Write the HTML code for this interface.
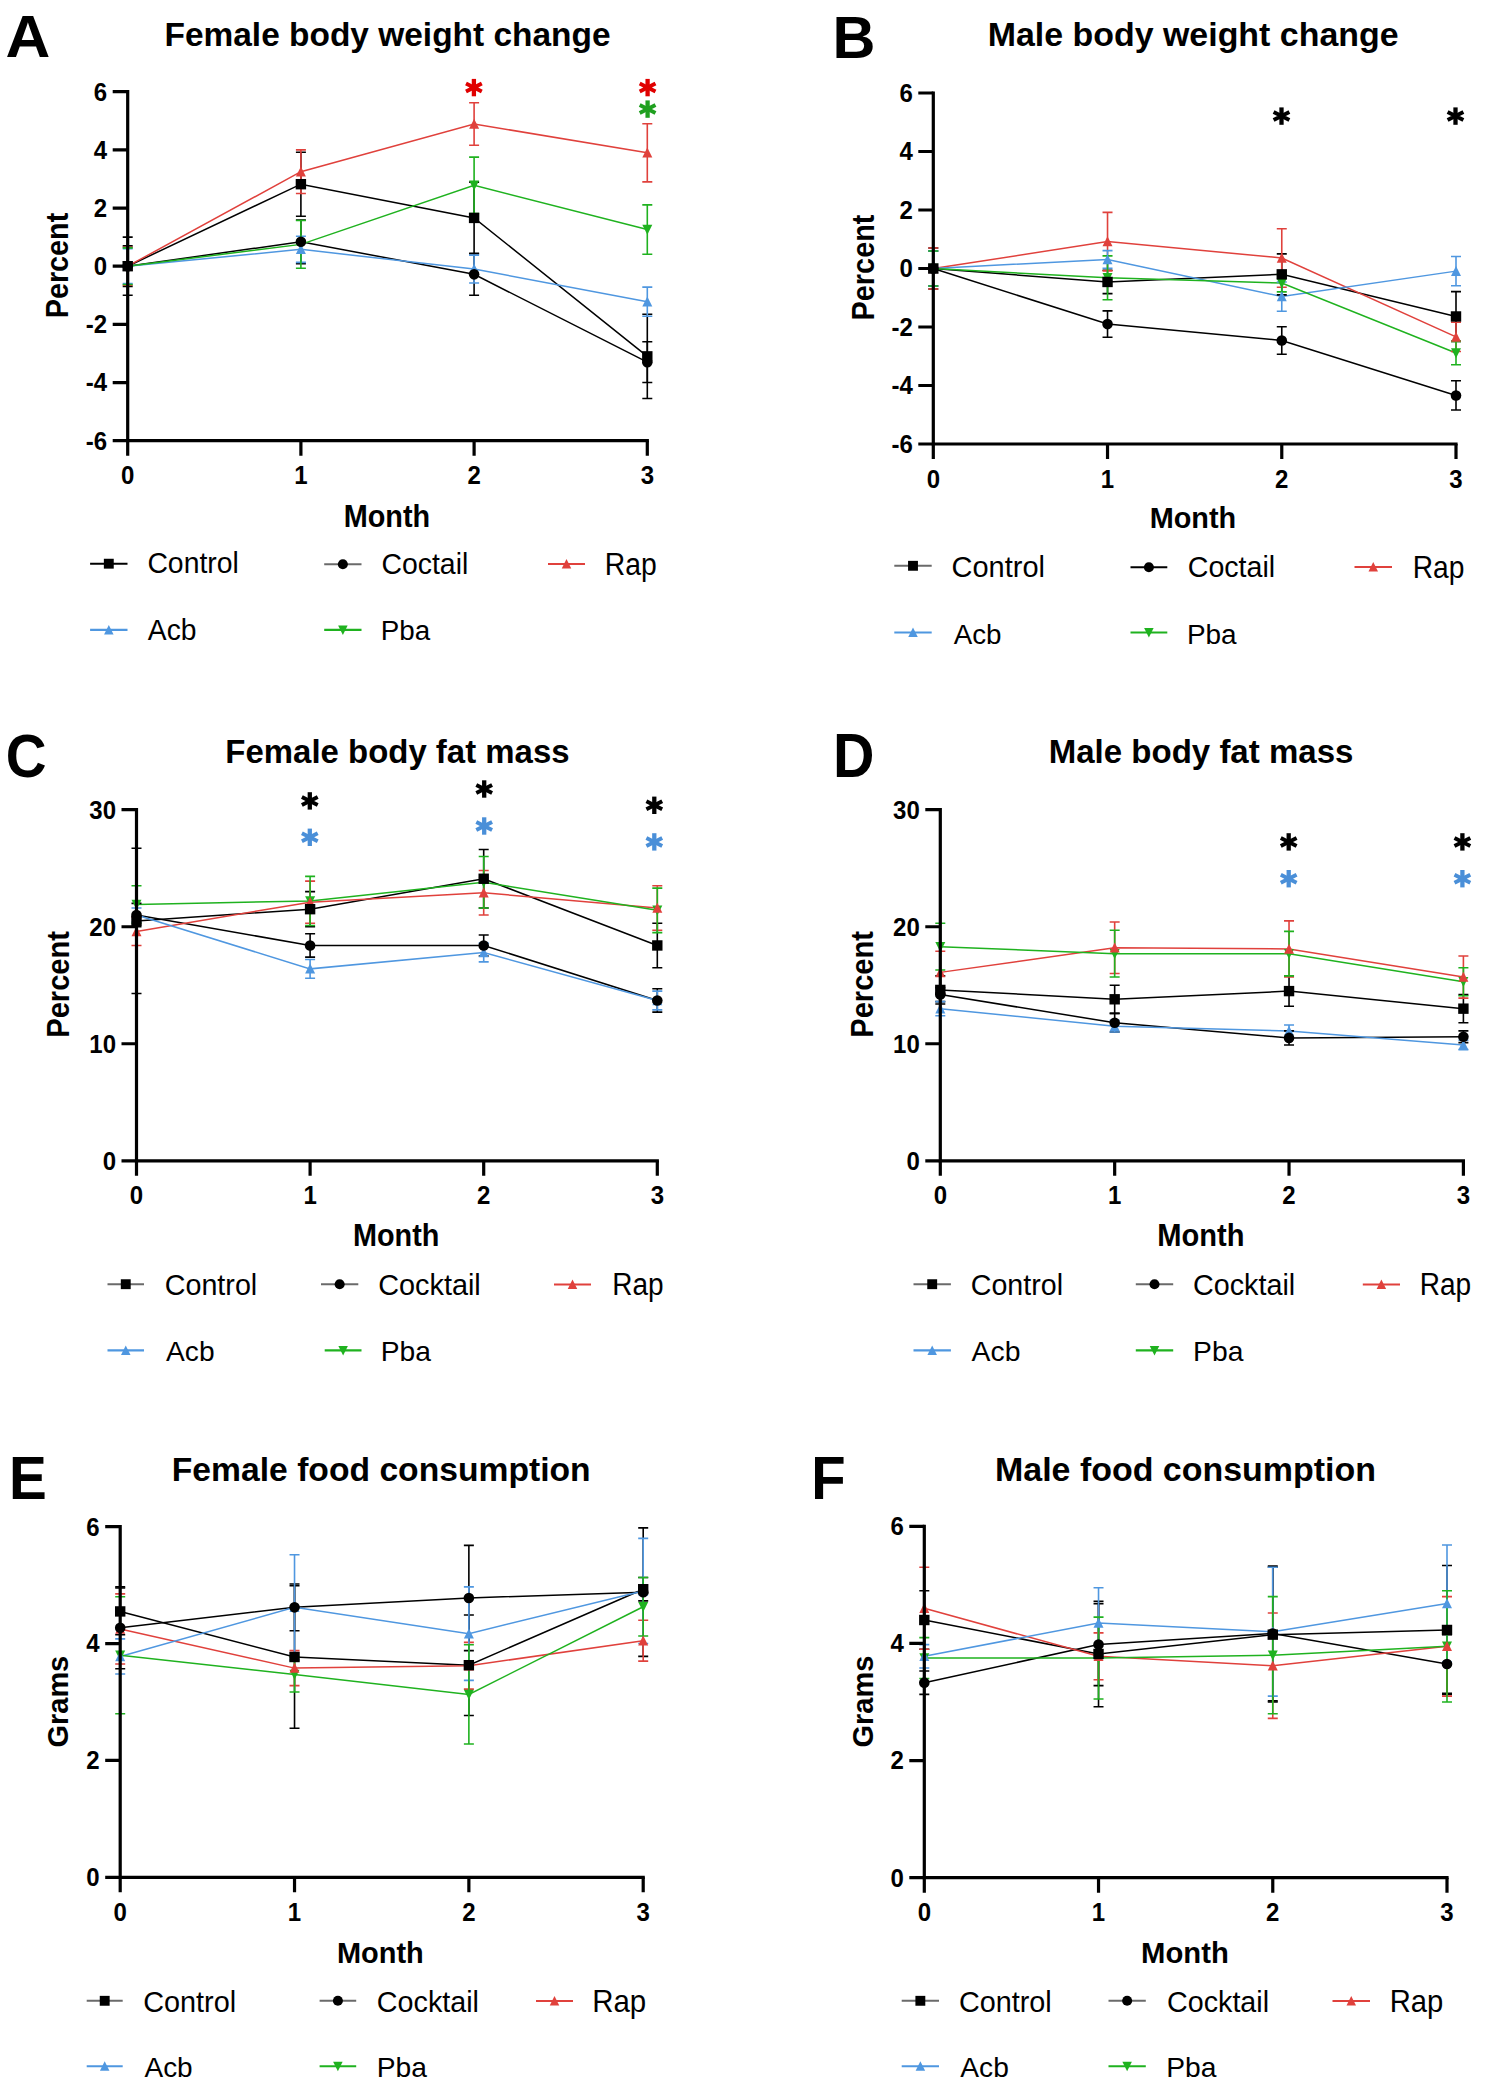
<!DOCTYPE html>
<html><head><meta charset="utf-8"><title>Figure</title>
<style>
html,body{margin:0;padding:0;background:#fff;}
body{width:1499px;height:2088px;overflow:hidden;}
svg{display:block;}
text{font-family:"Liberation Sans",sans-serif;fill:#000;}
.let{font-size:57px;font-weight:bold;}
.ttl{font-size:33px;font-weight:bold;}
.tk{font-size:24px;font-weight:bold;}
.axt{font-size:28px;font-weight:bold;}
.lg{font-size:27.5px;}
</style></head><body>
<svg width="1499" height="2088" viewBox="0 0 1499 2088">
<rect width="1499" height="2088" fill="#fff"/>
<text transform="matrix(0.62090 0 0 0.60000 5.45 57.00)" style="font-size:100px;font-weight:bold" fill="#000">A</text>
<text transform="matrix(0.33461 0 0 0.33379 164.48 46.10)" style="font-size:100px;font-weight:bold" fill="#000">Female body weight change</text>
<polyline points="127.7,266.2 300.9,184.19 474.1,217.92 647.3,356.36" fill="none" stroke="#000000" stroke-width="1.5"/>
<polyline points="127.7,266.2 300.9,241.77 474.1,274.34 647.3,362.17" fill="none" stroke="#000000" stroke-width="1.5"/>
<polyline points="127.7,266.2 300.9,171.68 474.1,123.98 647.3,152.77" fill="none" stroke="#e0413c" stroke-width="1.5"/>
<polyline points="127.7,266.2 300.9,249.33 474.1,269.11 647.3,301.68" fill="none" stroke="#4f97e0" stroke-width="1.5"/>
<polyline points="127.7,266.2 300.9,244.39 474.1,185.35 647.3,229.56" fill="none" stroke="#1fb21f" stroke-width="1.5"/>
<path d="M127.7 237.12V295.28 M122.7 237.12H132.7 M122.7 295.28H132.7" stroke="#000000" stroke-width="1.6" fill="none"/>
<path d="M300.9 152.19V216.18 M295.9 152.19H305.9 M295.9 216.18H305.9" stroke="#000000" stroke-width="1.6" fill="none"/>
<path d="M474.1 182.15V253.69 M469.1 182.15H479.1 M469.1 253.69H479.1" stroke="#000000" stroke-width="1.6" fill="none"/>
<path d="M647.3 314.19V398.53 M642.3 314.19H652.3 M642.3 398.53H652.3" stroke="#000000" stroke-width="1.6" fill="none"/>
<path d="M127.7 245.84V286.56 M122.7 245.84H132.7 M122.7 286.56H132.7" stroke="#000000" stroke-width="1.6" fill="none"/>
<path d="M300.9 219.96V263.58 M295.9 219.96H305.9 M295.9 263.58H305.9" stroke="#000000" stroke-width="1.6" fill="none"/>
<path d="M474.1 253.4V295.28 M469.1 253.4H479.1 M469.1 295.28H479.1" stroke="#000000" stroke-width="1.6" fill="none"/>
<path d="M647.3 341.82V382.53 M642.3 341.82H652.3 M642.3 382.53H652.3" stroke="#000000" stroke-width="1.6" fill="none"/>
<path d="M127.7 247.3V285.1 M122.7 247.3H132.7 M122.7 285.1H132.7" stroke="#e0413c" stroke-width="1.6" fill="none"/>
<path d="M300.9 149.87V193.49 M295.9 149.87H305.9 M295.9 193.49H305.9" stroke="#e0413c" stroke-width="1.6" fill="none"/>
<path d="M474.1 102.75V145.21 M469.1 102.75H479.1 M469.1 145.21H479.1" stroke="#e0413c" stroke-width="1.6" fill="none"/>
<path d="M647.3 123.69V181.86 M642.3 123.69H652.3 M642.3 181.86H652.3" stroke="#e0413c" stroke-width="1.6" fill="none"/>
<path d="M127.7 248.75V283.65 M122.7 248.75H132.7 M122.7 283.65H132.7" stroke="#4f97e0" stroke-width="1.6" fill="none"/>
<path d="M300.9 236.24V262.42 M295.9 236.24H305.9 M295.9 262.42H305.9" stroke="#4f97e0" stroke-width="1.6" fill="none"/>
<path d="M474.1 255.15V283.07 M469.1 255.15H479.1 M469.1 283.07H479.1" stroke="#4f97e0" stroke-width="1.6" fill="none"/>
<path d="M647.3 287.14V316.22 M642.3 287.14H652.3 M642.3 316.22H652.3" stroke="#4f97e0" stroke-width="1.6" fill="none"/>
<path d="M127.7 247.88V284.52 M122.7 247.88H132.7 M122.7 284.52H132.7" stroke="#1fb21f" stroke-width="1.6" fill="none"/>
<path d="M300.9 220.54V268.24 M295.9 220.54H305.9 M295.9 268.24H305.9" stroke="#1fb21f" stroke-width="1.6" fill="none"/>
<path d="M474.1 157.14V213.56 M469.1 157.14H479.1 M469.1 213.56H479.1" stroke="#1fb21f" stroke-width="1.6" fill="none"/>
<path d="M647.3 204.83V254.28 M642.3 204.83H652.3 M642.3 254.28H652.3" stroke="#1fb21f" stroke-width="1.6" fill="none"/>
<path d="M127.7 271.45L132.7 261.45L122.7 261.45Z" fill="#1fb21f"/>
<path d="M300.9 249.64L305.9 239.64L295.9 239.64Z" fill="#1fb21f"/>
<path d="M474.1 190.6L479.1 180.6L469.1 180.6Z" fill="#1fb21f"/>
<path d="M647.3 234.81L652.3 224.81L642.3 224.81Z" fill="#1fb21f"/>
<path d="M127.7 260.95L132.7 270.95L122.7 270.95Z" fill="#4f97e0"/>
<path d="M300.9 244.08L305.9 254.08L295.9 254.08Z" fill="#4f97e0"/>
<path d="M474.1 263.86L479.1 273.86L469.1 273.86Z" fill="#4f97e0"/>
<path d="M647.3 296.43L652.3 306.43L642.3 306.43Z" fill="#4f97e0"/>
<path d="M127.7 260.95L132.7 270.95L122.7 270.95Z" fill="#e0413c"/>
<path d="M300.9 166.43L305.9 176.43L295.9 176.43Z" fill="#e0413c"/>
<path d="M474.1 118.73L479.1 128.73L469.1 128.73Z" fill="#e0413c"/>
<path d="M647.3 147.52L652.3 157.52L642.3 157.52Z" fill="#e0413c"/>
<circle cx="127.7" cy="266.2" r="5.3" fill="#000000"/>
<circle cx="300.9" cy="241.77" r="5.3" fill="#000000"/>
<circle cx="474.1" cy="274.34" r="5.3" fill="#000000"/>
<circle cx="647.3" cy="362.17" r="5.3" fill="#000000"/>
<rect x="122.5" y="261" width="10.4" height="10.4" fill="#000000"/>
<rect x="295.7" y="178.99" width="10.4" height="10.4" fill="#000000"/>
<rect x="468.9" y="212.72" width="10.4" height="10.4" fill="#000000"/>
<rect x="642.1" y="351.16" width="10.4" height="10.4" fill="#000000"/>
<path d="M473.9 78.9V96.3" stroke="#e00000" stroke-width="4.3" fill="none"/><path d="M466 83.6L481.8 91.6 M466 91.6L481.8 83.6" stroke="#e00000" stroke-width="3.9" fill="none"/>
<path d="M647.6 78.9V96.3" stroke="#e00000" stroke-width="4.3" fill="none"/><path d="M639.7 83.6L655.5 91.6 M639.7 91.6L655.5 83.6" stroke="#e00000" stroke-width="3.9" fill="none"/>
<path d="M647.6 100.4V117.8" stroke="#20a020" stroke-width="4.3" fill="none"/><path d="M639.7 105.1L655.5 113.1 M639.7 113.1L655.5 105.1" stroke="#20a020" stroke-width="3.9" fill="none"/>
<text transform="translate(107.2 100.5) scale(1 1.04)" class="tk" text-anchor="end">6</text>
<text transform="translate(107.2 158.67) scale(1 1.04)" class="tk" text-anchor="end">4</text>
<text transform="translate(107.2 216.83) scale(1 1.04)" class="tk" text-anchor="end">2</text>
<text transform="translate(107.2 275) scale(1 1.04)" class="tk" text-anchor="end">0</text>
<text transform="translate(107.2 333.17) scale(1 1.04)" class="tk" text-anchor="end">-2</text>
<text transform="translate(107.2 391.33) scale(1 1.04)" class="tk" text-anchor="end">-4</text>
<text transform="translate(107.2 449.5) scale(1 1.04)" class="tk" text-anchor="end">-6</text>
<text transform="translate(127.7 484.2) scale(1 1.04)" class="tk" text-anchor="middle">0</text>
<text transform="translate(300.9 484.2) scale(1 1.04)" class="tk" text-anchor="middle">1</text>
<text transform="translate(474.1 484.2) scale(1 1.04)" class="tk" text-anchor="middle">2</text>
<text transform="translate(647.3 484.2) scale(1 1.04)" class="tk" text-anchor="middle">3</text>
<path d="M127.7 91.7V440.7 H647.3" stroke="#000" stroke-width="3.2" fill="none" stroke-linecap="square"/>
<path d="M112.7 91.7H127.7 M112.7 149.87H127.7 M112.7 208.03H127.7 M112.7 266.2H127.7 M112.7 324.37H127.7 M112.7 382.53H127.7 M112.7 440.7H127.7 M127.7 440.7V455.7 M300.9 440.7V455.7 M474.1 440.7V455.7 M647.3 440.7V455.7" stroke="#000" stroke-width="3.2" fill="none"/>
<text transform="matrix(0.28835 0 0 0.30897 343.73 526.60)" style="font-size:100px;font-weight:bold" fill="#000">Month</text>
<text transform="translate(68.30 316.40) rotate(-90) matrix(0.28774 0 0 0.31449 -1.87 0)" style="font-size:100px;font-weight:bold">Percent</text>
<path d="M90.1 563.7H127.5" stroke="#000000" stroke-width="2.1"/>
<rect x="103.86" y="558.76" width="9.88" height="9.88" fill="#000000"/>
<text transform="matrix(0.28374 0 0 0.29241 147.38 573.00)" style="font-size:100px;font-weight:normal" fill="#000">Control</text>
<path d="M324.2 564.2H361.5" stroke="#6a6a6a" stroke-width="2.1"/>
<circle cx="342.85" cy="564.2" r="5.03" fill="#000000"/>
<text transform="matrix(0.28401 0 0 0.29517 381.48 574.20)" style="font-size:100px;font-weight:normal" fill="#000">Coctail</text>
<path d="M548 564H585" stroke="#e0413c" stroke-width="2.1"/>
<path d="M566.5 559.01L571.25 568.51L561.75 568.51Z" fill="#e0413c"/>
<text transform="matrix(0.28338 0 0 0.31449 604.73 574.50)" style="font-size:100px;font-weight:normal" fill="#000">Rap</text>
<path d="M90.1 629.9H127.5" stroke="#4f97e0" stroke-width="2.1"/>
<path d="M108.8 624.91L113.55 634.41L104.05 634.41Z" fill="#4f97e0"/>
<text transform="matrix(0.28239 0 0 0.28828 147.86 639.90)" style="font-size:100px;font-weight:normal" fill="#000">Acb</text>
<path d="M324.2 629.9H361.5" stroke="#1fb21f" stroke-width="2.1"/>
<path d="M342.85 634.89L347.6 625.39L338.1 625.39Z" fill="#1fb21f"/>
<text transform="matrix(0.27765 0 0 0.28552 380.68 640.00)" style="font-size:100px;font-weight:normal" fill="#000">Pba</text>
<text transform="matrix(0.59426 0 0 0.59783 832.39 57.50)" style="font-size:100px;font-weight:bold" fill="#000">B</text>
<text transform="matrix(0.33938 0 0 0.33379 987.69 46.10)" style="font-size:100px;font-weight:bold" fill="#000">Male body weight change</text>
<polyline points="933.3,268.5 1107.53,281.96 1281.77,274.35 1456,316.47" fill="none" stroke="#000000" stroke-width="1.5"/>
<polyline points="933.3,268.5 1107.53,324.08 1281.77,340.45 1456,395.44" fill="none" stroke="#000000" stroke-width="1.5"/>
<polyline points="933.3,268.5 1107.53,241.59 1281.77,257.97 1456,336.94" fill="none" stroke="#e0413c" stroke-width="1.5"/>
<polyline points="933.3,268.5 1107.53,259.43 1281.77,296.58 1456,271.13" fill="none" stroke="#4f97e0" stroke-width="1.5"/>
<polyline points="933.3,268.5 1107.53,277.86 1281.77,283.12 1456,353.03" fill="none" stroke="#1fb21f" stroke-width="1.5"/>
<path d="M933.3 248.03V288.98 M928.3 248.03H938.3 M928.3 288.98H938.3" stroke="#000000" stroke-width="1.6" fill="none"/>
<path d="M1107.53 270.25V293.65 M1102.53 270.25H1112.53 M1102.53 293.65H1112.53" stroke="#000000" stroke-width="1.6" fill="none"/>
<path d="M1281.77 253.88V294.83 M1276.77 253.88H1286.77 M1276.77 294.83H1286.77" stroke="#000000" stroke-width="1.6" fill="none"/>
<path d="M1456 291.61V341.33 M1451 291.61H1461 M1451 341.33H1461" stroke="#000000" stroke-width="1.6" fill="none"/>
<path d="M933.3 250.95V286.05 M928.3 250.95H938.3 M928.3 286.05H938.3" stroke="#000000" stroke-width="1.6" fill="none"/>
<path d="M1107.53 310.91V337.24 M1102.53 310.91H1112.53 M1102.53 337.24H1112.53" stroke="#000000" stroke-width="1.6" fill="none"/>
<path d="M1281.77 326.71V354.2 M1276.77 326.71H1286.77 M1276.77 354.2H1286.77" stroke="#000000" stroke-width="1.6" fill="none"/>
<path d="M1456 380.82V410.07 M1451 380.82H1461 M1451 410.07H1461" stroke="#000000" stroke-width="1.6" fill="none"/>
<path d="M933.3 248.03V288.98 M928.3 248.03H938.3 M928.3 288.98H938.3" stroke="#e0413c" stroke-width="1.6" fill="none"/>
<path d="M1107.53 212.34V270.84 M1102.53 212.34H1112.53 M1102.53 270.84H1112.53" stroke="#e0413c" stroke-width="1.6" fill="none"/>
<path d="M1281.77 228.72V287.22 M1276.77 228.72H1286.77 M1276.77 287.22H1286.77" stroke="#e0413c" stroke-width="1.6" fill="none"/>
<path d="M1456 322.32V351.57 M1451 322.32H1461 M1451 351.57H1461" stroke="#e0413c" stroke-width="1.6" fill="none"/>
<path d="M933.3 250.95V286.05 M928.3 250.95H938.3 M928.3 286.05H938.3" stroke="#4f97e0" stroke-width="1.6" fill="none"/>
<path d="M1107.53 250.66V268.21 M1102.53 250.66H1112.53 M1102.53 268.21H1112.53" stroke="#4f97e0" stroke-width="1.6" fill="none"/>
<path d="M1281.77 281.96V311.21 M1276.77 281.96H1286.77 M1276.77 311.21H1286.77" stroke="#4f97e0" stroke-width="1.6" fill="none"/>
<path d="M1456 256.51V285.76 M1451 256.51H1461 M1451 285.76H1461" stroke="#4f97e0" stroke-width="1.6" fill="none"/>
<path d="M933.3 250.95V286.05 M928.3 250.95H938.3 M928.3 286.05H938.3" stroke="#1fb21f" stroke-width="1.6" fill="none"/>
<path d="M1107.53 255.92V299.8 M1102.53 255.92H1112.53 M1102.53 299.8H1112.53" stroke="#1fb21f" stroke-width="1.6" fill="none"/>
<path d="M1281.77 274.35V291.9 M1276.77 274.35H1286.77 M1276.77 291.9H1286.77" stroke="#1fb21f" stroke-width="1.6" fill="none"/>
<path d="M1456 341.33V364.73 M1451 341.33H1461 M1451 364.73H1461" stroke="#1fb21f" stroke-width="1.6" fill="none"/>
<path d="M933.3 273.75L938.3 263.75L928.3 263.75Z" fill="#1fb21f"/>
<path d="M1107.53 283.11L1112.53 273.11L1102.53 273.11Z" fill="#1fb21f"/>
<path d="M1281.77 288.38L1286.77 278.38L1276.77 278.38Z" fill="#1fb21f"/>
<path d="M1456 358.28L1461 348.28L1451 348.28Z" fill="#1fb21f"/>
<path d="M933.3 263.25L938.3 273.25L928.3 273.25Z" fill="#4f97e0"/>
<path d="M1107.53 254.18L1112.53 264.18L1102.53 264.18Z" fill="#4f97e0"/>
<path d="M1281.77 291.33L1286.77 301.33L1276.77 301.33Z" fill="#4f97e0"/>
<path d="M1456 265.88L1461 275.88L1451 275.88Z" fill="#4f97e0"/>
<path d="M933.3 263.25L938.3 273.25L928.3 273.25Z" fill="#e0413c"/>
<path d="M1107.53 236.34L1112.53 246.34L1102.53 246.34Z" fill="#e0413c"/>
<path d="M1281.77 252.72L1286.77 262.72L1276.77 262.72Z" fill="#e0413c"/>
<path d="M1456 331.69L1461 341.69L1451 341.69Z" fill="#e0413c"/>
<circle cx="933.3" cy="268.5" r="5.3" fill="#000000"/>
<circle cx="1107.53" cy="324.08" r="5.3" fill="#000000"/>
<circle cx="1281.77" cy="340.45" r="5.3" fill="#000000"/>
<circle cx="1456" cy="395.44" r="5.3" fill="#000000"/>
<rect x="928.1" y="263.3" width="10.4" height="10.4" fill="#000000"/>
<rect x="1102.33" y="276.76" width="10.4" height="10.4" fill="#000000"/>
<rect x="1276.57" y="269.15" width="10.4" height="10.4" fill="#000000"/>
<rect x="1450.8" y="311.27" width="10.4" height="10.4" fill="#000000"/>
<path d="M1281.5 107.4V124.8" stroke="#000000" stroke-width="4.3" fill="none"/><path d="M1273.6 112.1L1289.4 120.1 M1273.6 120.1L1289.4 112.1" stroke="#000000" stroke-width="3.9" fill="none"/>
<path d="M1455.5 107.4V124.8" stroke="#000000" stroke-width="4.3" fill="none"/><path d="M1447.6 112.1L1463.4 120.1 M1447.6 120.1L1463.4 112.1" stroke="#000000" stroke-width="3.9" fill="none"/>
<text transform="translate(912.8 101.8) scale(1 1.04)" class="tk" text-anchor="end">6</text>
<text transform="translate(912.8 160.3) scale(1 1.04)" class="tk" text-anchor="end">4</text>
<text transform="translate(912.8 218.8) scale(1 1.04)" class="tk" text-anchor="end">2</text>
<text transform="translate(912.8 277.3) scale(1 1.04)" class="tk" text-anchor="end">0</text>
<text transform="translate(912.8 335.8) scale(1 1.04)" class="tk" text-anchor="end">-2</text>
<text transform="translate(912.8 394.3) scale(1 1.04)" class="tk" text-anchor="end">-4</text>
<text transform="translate(912.8 452.8) scale(1 1.04)" class="tk" text-anchor="end">-6</text>
<text transform="translate(933.3 487.5) scale(1 1.04)" class="tk" text-anchor="middle">0</text>
<text transform="translate(1107.53 487.5) scale(1 1.04)" class="tk" text-anchor="middle">1</text>
<text transform="translate(1281.77 487.5) scale(1 1.04)" class="tk" text-anchor="middle">2</text>
<text transform="translate(1456 487.5) scale(1 1.04)" class="tk" text-anchor="middle">3</text>
<path d="M933.3 93V444 H1456" stroke="#000" stroke-width="3.2" fill="none" stroke-linecap="square"/>
<path d="M918.3 93H933.3 M918.3 151.5H933.3 M918.3 210H933.3 M918.3 268.5H933.3 M918.3 327H933.3 M918.3 385.5H933.3 M918.3 444H933.3 M933.3 444V459 M1107.53 444V459 M1281.77 444V459 M1456 444V459" stroke="#000" stroke-width="3.2" fill="none"/>
<text transform="matrix(0.28835 0 0 0.30345 1149.73 528.20)" style="font-size:100px;font-weight:bold" fill="#000">Month</text>
<text transform="translate(873.60 318.60) rotate(-90) matrix(0.28886 0 0 0.31014 -1.88 0)" style="font-size:100px;font-weight:bold">Percent</text>
<path d="M894.3 565.8H931.7" stroke="#6a6a6a" stroke-width="2.1"/>
<rect x="908.06" y="560.86" width="9.88" height="9.88" fill="#000000"/>
<text transform="matrix(0.28986 0 0 0.29655 951.55 576.50)" style="font-size:100px;font-weight:normal" fill="#000">Control</text>
<path d="M1130.5 567.2H1167.3" stroke="#000000" stroke-width="2.1"/>
<circle cx="1148.9" cy="567.2" r="5.03" fill="#000000"/>
<text transform="matrix(0.28605 0 0 0.29241 1187.77 577.00)" style="font-size:100px;font-weight:normal" fill="#000">Coctail</text>
<path d="M1354.5 567H1392" stroke="#e0413c" stroke-width="2.1"/>
<path d="M1373.25 562.01L1378 571.51L1368.5 571.51Z" fill="#e0413c"/>
<text transform="matrix(0.28163 0 0 0.30725 1412.75 578.00)" style="font-size:100px;font-weight:normal" fill="#000">Rap</text>
<path d="M894.3 632.5H931.7" stroke="#4f97e0" stroke-width="2.1"/>
<path d="M913 627.51L917.75 637.01L908.25 637.01Z" fill="#4f97e0"/>
<text transform="matrix(0.27761 0 0 0.28552 953.66 643.70)" style="font-size:100px;font-weight:normal" fill="#000">Acb</text>
<path d="M1130.5 632.5H1167.3" stroke="#1fb21f" stroke-width="2.1"/>
<path d="M1148.9 637.49L1153.65 627.99L1144.15 627.99Z" fill="#1fb21f"/>
<text transform="matrix(0.27941 0 0 0.28552 1186.96 643.70)" style="font-size:100px;font-weight:normal" fill="#000">Pba</text>
<text transform="matrix(0.56489 0 0 0.61429 5.74 777.30)" style="font-size:100px;font-weight:bold" fill="#000">C</text>
<text transform="matrix(0.32950 0 0 0.33379 225.36 763.20)" style="font-size:100px;font-weight:bold" fill="#000">Female body fat mass</text>
<polyline points="136.5,920.88 310.1,909.18 483.7,878.75 657.3,945.46" fill="none" stroke="#000000" stroke-width="1.5"/>
<polyline points="136.5,915.03 310.1,945.46 483.7,945.46 657.3,1000.46" fill="none" stroke="#000000" stroke-width="1.5"/>
<polyline points="136.5,931.41 310.1,902.16 483.7,892.79 657.3,908.01" fill="none" stroke="#e0413c" stroke-width="1.5"/>
<polyline points="136.5,915.03 310.1,968.87 483.7,952.48 657.3,1000.46" fill="none" stroke="#4f97e0" stroke-width="1.5"/>
<polyline points="136.5,904.5 310.1,900.99 483.7,882.26 657.3,910.35" fill="none" stroke="#1fb21f" stroke-width="1.5"/>
<path d="M136.5 848.32V993.44 M131.5 848.32H141.5 M131.5 993.44H141.5" stroke="#000000" stroke-width="1.6" fill="none"/>
<path d="M310.1 891.62V926.73 M305.1 891.62H315.1 M305.1 926.73H315.1" stroke="#000000" stroke-width="1.6" fill="none"/>
<path d="M483.7 849.49V908.01 M478.7 849.49H488.7 M478.7 908.01H488.7" stroke="#000000" stroke-width="1.6" fill="none"/>
<path d="M657.3 923.22V967.7 M652.3 923.22H662.3 M652.3 967.7H662.3" stroke="#000000" stroke-width="1.6" fill="none"/>
<path d="M136.5 903.33V926.73 M131.5 903.33H141.5 M131.5 926.73H141.5" stroke="#000000" stroke-width="1.6" fill="none"/>
<path d="M310.1 933.76V957.16 M305.1 933.76H315.1 M305.1 957.16H315.1" stroke="#000000" stroke-width="1.6" fill="none"/>
<path d="M483.7 934.93V955.99 M478.7 934.93H488.7 M478.7 955.99H488.7" stroke="#000000" stroke-width="1.6" fill="none"/>
<path d="M657.3 988.76V1012.17 M652.3 988.76H662.3 M652.3 1012.17H662.3" stroke="#000000" stroke-width="1.6" fill="none"/>
<path d="M136.5 917.37V945.46 M131.5 917.37H141.5 M131.5 945.46H141.5" stroke="#e0413c" stroke-width="1.6" fill="none"/>
<path d="M310.1 881.09V923.22 M305.1 881.09H315.1 M305.1 923.22H315.1" stroke="#e0413c" stroke-width="1.6" fill="none"/>
<path d="M483.7 870.56V915.03 M478.7 870.56H488.7 M478.7 915.03H488.7" stroke="#e0413c" stroke-width="1.6" fill="none"/>
<path d="M657.3 885.77V930.24 M652.3 885.77H662.3 M652.3 930.24H662.3" stroke="#e0413c" stroke-width="1.6" fill="none"/>
<path d="M136.5 908.01V922.05 M131.5 908.01H141.5 M131.5 922.05H141.5" stroke="#4f97e0" stroke-width="1.6" fill="none"/>
<path d="M310.1 959.5V978.23 M305.1 959.5H315.1 M305.1 978.23H315.1" stroke="#4f97e0" stroke-width="1.6" fill="none"/>
<path d="M483.7 943.12V961.84 M478.7 943.12H488.7 M478.7 961.84H488.7" stroke="#4f97e0" stroke-width="1.6" fill="none"/>
<path d="M657.3 991.1V1009.83 M652.3 991.1H662.3 M652.3 1009.83H662.3" stroke="#4f97e0" stroke-width="1.6" fill="none"/>
<path d="M136.5 885.77V923.22 M131.5 885.77H141.5 M131.5 923.22H141.5" stroke="#1fb21f" stroke-width="1.6" fill="none"/>
<path d="M310.1 876.41V925.56 M305.1 876.41H315.1 M305.1 925.56H315.1" stroke="#1fb21f" stroke-width="1.6" fill="none"/>
<path d="M483.7 856.51V908.01 M478.7 856.51H488.7 M478.7 908.01H488.7" stroke="#1fb21f" stroke-width="1.6" fill="none"/>
<path d="M657.3 888.11V932.59 M652.3 888.11H662.3 M652.3 932.59H662.3" stroke="#1fb21f" stroke-width="1.6" fill="none"/>
<path d="M136.5 909.75L141.5 899.75L131.5 899.75Z" fill="#1fb21f"/>
<path d="M310.1 906.24L315.1 896.24L305.1 896.24Z" fill="#1fb21f"/>
<path d="M483.7 887.51L488.7 877.51L478.7 877.51Z" fill="#1fb21f"/>
<path d="M657.3 915.6L662.3 905.6L652.3 905.6Z" fill="#1fb21f"/>
<path d="M136.5 909.78L141.5 919.78L131.5 919.78Z" fill="#4f97e0"/>
<path d="M310.1 963.62L315.1 973.62L305.1 973.62Z" fill="#4f97e0"/>
<path d="M483.7 947.23L488.7 957.23L478.7 957.23Z" fill="#4f97e0"/>
<path d="M657.3 995.21L662.3 1005.21L652.3 1005.21Z" fill="#4f97e0"/>
<path d="M136.5 926.16L141.5 936.16L131.5 936.16Z" fill="#e0413c"/>
<path d="M310.1 896.91L315.1 906.91L305.1 906.91Z" fill="#e0413c"/>
<path d="M483.7 887.54L488.7 897.54L478.7 897.54Z" fill="#e0413c"/>
<path d="M657.3 902.76L662.3 912.76L652.3 912.76Z" fill="#e0413c"/>
<circle cx="136.5" cy="915.03" r="5.3" fill="#000000"/>
<circle cx="310.1" cy="945.46" r="5.3" fill="#000000"/>
<circle cx="483.7" cy="945.46" r="5.3" fill="#000000"/>
<circle cx="657.3" cy="1000.46" r="5.3" fill="#000000"/>
<rect x="131.3" y="915.68" width="10.4" height="10.4" fill="#000000"/>
<rect x="304.9" y="903.98" width="10.4" height="10.4" fill="#000000"/>
<rect x="478.5" y="873.55" width="10.4" height="10.4" fill="#000000"/>
<rect x="652.1" y="940.26" width="10.4" height="10.4" fill="#000000"/>
<path d="M309.8 792.2V809.6" stroke="#000000" stroke-width="4.3" fill="none"/><path d="M301.9 796.9L317.7 804.9 M301.9 804.9L317.7 796.9" stroke="#000000" stroke-width="3.9" fill="none"/>
<path d="M484.2 780.3V797.7" stroke="#000000" stroke-width="4.3" fill="none"/><path d="M476.3 785L492.1 793 M476.3 793L492.1 785" stroke="#000000" stroke-width="3.9" fill="none"/>
<path d="M654.3 796.6V814" stroke="#000000" stroke-width="4.3" fill="none"/><path d="M646.4 801.3L662.2 809.3 M646.4 809.3L662.2 801.3" stroke="#000000" stroke-width="3.9" fill="none"/>
<path d="M309.8 828.6V846" stroke="#4a8fd8" stroke-width="4.3" fill="none"/><path d="M301.9 833.3L317.7 841.3 M301.9 841.3L317.7 833.3" stroke="#4a8fd8" stroke-width="3.9" fill="none"/>
<path d="M484.2 817.3V834.7" stroke="#4a8fd8" stroke-width="4.3" fill="none"/><path d="M476.3 822L492.1 830 M476.3 830L492.1 822" stroke="#4a8fd8" stroke-width="3.9" fill="none"/>
<path d="M654.3 833.2V850.6" stroke="#4a8fd8" stroke-width="4.3" fill="none"/><path d="M646.4 837.9L662.2 845.9 M646.4 845.9L662.2 837.9" stroke="#4a8fd8" stroke-width="3.9" fill="none"/>
<text transform="translate(116 818.5) scale(1 1.04)" class="tk" text-anchor="end">30</text>
<text transform="translate(116 935.53) scale(1 1.04)" class="tk" text-anchor="end">20</text>
<text transform="translate(116 1052.57) scale(1 1.04)" class="tk" text-anchor="end">10</text>
<text transform="translate(116 1169.6) scale(1 1.04)" class="tk" text-anchor="end">0</text>
<text transform="translate(136.5 1204.3) scale(1 1.04)" class="tk" text-anchor="middle">0</text>
<text transform="translate(310.1 1204.3) scale(1 1.04)" class="tk" text-anchor="middle">1</text>
<text transform="translate(483.7 1204.3) scale(1 1.04)" class="tk" text-anchor="middle">2</text>
<text transform="translate(657.3 1204.3) scale(1 1.04)" class="tk" text-anchor="middle">3</text>
<path d="M136.5 809.7V1160.8 H657.3" stroke="#000" stroke-width="3.2" fill="none" stroke-linecap="square"/>
<path d="M121.5 809.7H136.5 M121.5 926.73H136.5 M121.5 1043.77H136.5 M121.5 1160.8H136.5 M136.5 1160.8V1175.8 M310.1 1160.8V1175.8 M483.7 1160.8V1175.8 M657.3 1160.8V1175.8" stroke="#000" stroke-width="3.2" fill="none"/>
<text transform="matrix(0.28835 0 0 0.30897 352.93 1246.20)" style="font-size:100px;font-weight:bold" fill="#000">Month</text>
<text transform="translate(68.60 1035.80) rotate(-90) matrix(0.29053 0 0 0.31449 -1.89 0)" style="font-size:100px;font-weight:bold">Percent</text>
<path d="M107.5 1284.2H144" stroke="#6a6a6a" stroke-width="2.1"/>
<rect x="120.81" y="1279.26" width="9.88" height="9.88" fill="#000000"/>
<text transform="matrix(0.28696 0 0 0.29379 164.77 1294.90)" style="font-size:100px;font-weight:normal" fill="#000">Control</text>
<path d="M321 1284.2H358.3" stroke="#6a6a6a" stroke-width="2.1"/>
<circle cx="339.65" cy="1284.2" r="5.03" fill="#000000"/>
<text transform="matrix(0.28837 0 0 0.29517 378.26 1295.00)" style="font-size:100px;font-weight:normal" fill="#000">Cocktail</text>
<path d="M554 1284.5H591" stroke="#e0413c" stroke-width="2.1"/>
<path d="M572.5 1279.51L577.25 1289.01L567.75 1289.01Z" fill="#e0413c"/>
<text transform="matrix(0.27988 0 0 0.31449 612.36 1295.00)" style="font-size:100px;font-weight:normal" fill="#000">Rap</text>
<path d="M107.5 1350.4H144" stroke="#4f97e0" stroke-width="2.1"/>
<path d="M125.75 1345.41L130.5 1354.91L121 1354.91Z" fill="#4f97e0"/>
<text transform="matrix(0.28179 0 0 0.28552 166.06 1360.50)" style="font-size:100px;font-weight:normal" fill="#000">Acb</text>
<path d="M324.7 1350.4H361.5" stroke="#1fb21f" stroke-width="2.1"/>
<path d="M343.1 1355.39L347.85 1345.89L338.35 1345.89Z" fill="#1fb21f"/>
<text transform="matrix(0.28235 0 0 0.28552 380.64 1360.50)" style="font-size:100px;font-weight:normal" fill="#000">Pba</text>
<text transform="matrix(0.57398 0 0 0.62319 832.97 777.30)" style="font-size:100px;font-weight:bold" fill="#000">D</text>
<text transform="matrix(0.33026 0 0 0.33517 1048.75 763.30)" style="font-size:100px;font-weight:bold" fill="#000">Male body fat mass</text>
<polyline points="940.3,989.93 1114.67,999.29 1289.03,991.1 1463.4,1008.66" fill="none" stroke="#000000" stroke-width="1.5"/>
<polyline points="940.3,994.61 1114.67,1022.7 1289.03,1037.91 1463.4,1036.74" fill="none" stroke="#000000" stroke-width="1.5"/>
<polyline points="940.3,972.38 1114.67,947.8 1289.03,948.97 1463.4,977.06" fill="none" stroke="#e0413c" stroke-width="1.5"/>
<polyline points="940.3,1008.66 1114.67,1026.21 1289.03,1030.89 1463.4,1044.94" fill="none" stroke="#4f97e0" stroke-width="1.5"/>
<polyline points="940.3,946.63 1114.67,953.65 1289.03,953.65 1463.4,981.74" fill="none" stroke="#1fb21f" stroke-width="1.5"/>
<path d="M940.3 975.89V1003.98 M935.3 975.89H945.3 M935.3 1003.98H945.3" stroke="#000000" stroke-width="1.6" fill="none"/>
<path d="M1114.67 985.25V1013.34 M1109.67 985.25H1119.67 M1109.67 1013.34H1119.67" stroke="#000000" stroke-width="1.6" fill="none"/>
<path d="M1289.03 975.89V1006.32 M1284.03 975.89H1294.03 M1284.03 1006.32H1294.03" stroke="#000000" stroke-width="1.6" fill="none"/>
<path d="M1463.4 994.61V1022.7 M1458.4 994.61H1468.4 M1458.4 1022.7H1468.4" stroke="#000000" stroke-width="1.6" fill="none"/>
<path d="M940.3 987.59V1001.63 M935.3 987.59H945.3 M935.3 1001.63H945.3" stroke="#000000" stroke-width="1.6" fill="none"/>
<path d="M1114.67 1013.34V1032.06 M1109.67 1013.34H1119.67 M1109.67 1032.06H1119.67" stroke="#000000" stroke-width="1.6" fill="none"/>
<path d="M1289.03 1030.89V1044.94 M1284.03 1030.89H1294.03 M1284.03 1044.94H1294.03" stroke="#000000" stroke-width="1.6" fill="none"/>
<path d="M1463.4 1030.89V1042.6 M1458.4 1030.89H1468.4 M1458.4 1042.6H1468.4" stroke="#000000" stroke-width="1.6" fill="none"/>
<path d="M940.3 951.31V993.44 M935.3 951.31H945.3 M935.3 993.44H945.3" stroke="#e0413c" stroke-width="1.6" fill="none"/>
<path d="M1114.67 922.05V973.55 M1109.67 922.05H1119.67 M1109.67 973.55H1119.67" stroke="#e0413c" stroke-width="1.6" fill="none"/>
<path d="M1289.03 920.88V977.06 M1284.03 920.88H1294.03 M1284.03 977.06H1294.03" stroke="#e0413c" stroke-width="1.6" fill="none"/>
<path d="M1463.4 955.99V998.12 M1458.4 955.99H1468.4 M1458.4 998.12H1468.4" stroke="#e0413c" stroke-width="1.6" fill="none"/>
<path d="M940.3 1001.63V1015.68 M935.3 1001.63H945.3 M935.3 1015.68H945.3" stroke="#4f97e0" stroke-width="1.6" fill="none"/>
<path d="M1114.67 1020.36V1032.06 M1109.67 1020.36H1119.67 M1109.67 1032.06H1119.67" stroke="#4f97e0" stroke-width="1.6" fill="none"/>
<path d="M1289.03 1025.04V1036.74 M1284.03 1025.04H1294.03 M1284.03 1036.74H1294.03" stroke="#4f97e0" stroke-width="1.6" fill="none"/>
<path d="M1463.4 1040.26V1049.62 M1458.4 1040.26H1468.4 M1458.4 1049.62H1468.4" stroke="#4f97e0" stroke-width="1.6" fill="none"/>
<path d="M940.3 923.22V970.04 M935.3 923.22H945.3 M935.3 970.04H945.3" stroke="#1fb21f" stroke-width="1.6" fill="none"/>
<path d="M1114.67 930.24V977.06 M1109.67 930.24H1119.67 M1109.67 977.06H1119.67" stroke="#1fb21f" stroke-width="1.6" fill="none"/>
<path d="M1289.03 931.41V975.89 M1284.03 931.41H1294.03 M1284.03 975.89H1294.03" stroke="#1fb21f" stroke-width="1.6" fill="none"/>
<path d="M1463.4 967.7V995.78 M1458.4 967.7H1468.4 M1458.4 995.78H1468.4" stroke="#1fb21f" stroke-width="1.6" fill="none"/>
<path d="M940.3 951.88L945.3 941.88L935.3 941.88Z" fill="#1fb21f"/>
<path d="M1114.67 958.9L1119.67 948.9L1109.67 948.9Z" fill="#1fb21f"/>
<path d="M1289.03 958.9L1294.03 948.9L1284.03 948.9Z" fill="#1fb21f"/>
<path d="M1463.4 986.99L1468.4 976.99L1458.4 976.99Z" fill="#1fb21f"/>
<path d="M940.3 1003.41L945.3 1013.41L935.3 1013.41Z" fill="#4f97e0"/>
<path d="M1114.67 1020.96L1119.67 1030.96L1109.67 1030.96Z" fill="#4f97e0"/>
<path d="M1289.03 1025.64L1294.03 1035.64L1284.03 1035.64Z" fill="#4f97e0"/>
<path d="M1463.4 1039.69L1468.4 1049.69L1458.4 1049.69Z" fill="#4f97e0"/>
<path d="M940.3 967.13L945.3 977.13L935.3 977.13Z" fill="#e0413c"/>
<path d="M1114.67 942.55L1119.67 952.55L1109.67 952.55Z" fill="#e0413c"/>
<path d="M1289.03 943.72L1294.03 953.72L1284.03 953.72Z" fill="#e0413c"/>
<path d="M1463.4 971.81L1468.4 981.81L1458.4 981.81Z" fill="#e0413c"/>
<circle cx="940.3" cy="994.61" r="5.3" fill="#000000"/>
<circle cx="1114.67" cy="1022.7" r="5.3" fill="#000000"/>
<circle cx="1289.03" cy="1037.91" r="5.3" fill="#000000"/>
<circle cx="1463.4" cy="1036.74" r="5.3" fill="#000000"/>
<rect x="935.1" y="984.73" width="10.4" height="10.4" fill="#000000"/>
<rect x="1109.47" y="994.09" width="10.4" height="10.4" fill="#000000"/>
<rect x="1283.83" y="985.9" width="10.4" height="10.4" fill="#000000"/>
<rect x="1458.2" y="1003.46" width="10.4" height="10.4" fill="#000000"/>
<path d="M1288.7 833.2V850.6" stroke="#000000" stroke-width="4.3" fill="none"/><path d="M1280.8 837.9L1296.6 845.9 M1280.8 845.9L1296.6 837.9" stroke="#000000" stroke-width="3.9" fill="none"/>
<path d="M1462.4 833.2V850.6" stroke="#000000" stroke-width="4.3" fill="none"/><path d="M1454.5 837.9L1470.3 845.9 M1454.5 845.9L1470.3 837.9" stroke="#000000" stroke-width="3.9" fill="none"/>
<path d="M1288.7 870V887.4" stroke="#4a8fd8" stroke-width="4.3" fill="none"/><path d="M1280.8 874.7L1296.6 882.7 M1280.8 882.7L1296.6 874.7" stroke="#4a8fd8" stroke-width="3.9" fill="none"/>
<path d="M1462.4 870V887.4" stroke="#4a8fd8" stroke-width="4.3" fill="none"/><path d="M1454.5 874.7L1470.3 882.7 M1454.5 882.7L1470.3 874.7" stroke="#4a8fd8" stroke-width="3.9" fill="none"/>
<text transform="translate(919.8 818.5) scale(1 1.04)" class="tk" text-anchor="end">30</text>
<text transform="translate(919.8 935.53) scale(1 1.04)" class="tk" text-anchor="end">20</text>
<text transform="translate(919.8 1052.57) scale(1 1.04)" class="tk" text-anchor="end">10</text>
<text transform="translate(919.8 1169.6) scale(1 1.04)" class="tk" text-anchor="end">0</text>
<text transform="translate(940.3 1204.3) scale(1 1.04)" class="tk" text-anchor="middle">0</text>
<text transform="translate(1114.67 1204.3) scale(1 1.04)" class="tk" text-anchor="middle">1</text>
<text transform="translate(1289.03 1204.3) scale(1 1.04)" class="tk" text-anchor="middle">2</text>
<text transform="translate(1463.4 1204.3) scale(1 1.04)" class="tk" text-anchor="middle">3</text>
<path d="M940.3 809.7V1160.8 H1463.4" stroke="#000" stroke-width="3.2" fill="none" stroke-linecap="square"/>
<path d="M925.3 809.7H940.3 M925.3 926.73H940.3 M925.3 1043.77H940.3 M925.3 1160.8H940.3 M940.3 1160.8V1175.8 M1114.67 1160.8V1175.8 M1289.03 1160.8V1175.8 M1463.4 1160.8V1175.8" stroke="#000" stroke-width="3.2" fill="none"/>
<text transform="matrix(0.29113 0 0 0.30897 1157.31 1246.20)" style="font-size:100px;font-weight:bold" fill="#000">Month</text>
<text transform="translate(873.30 1035.80) rotate(-90) matrix(0.29053 0 0 0.30580 -1.89 0)" style="font-size:100px;font-weight:bold">Percent</text>
<path d="M913.5 1284.2H950.9" stroke="#6a6a6a" stroke-width="2.1"/>
<rect x="927.26" y="1279.26" width="9.88" height="9.88" fill="#000000"/>
<text transform="matrix(0.28631 0 0 0.29517 970.77 1295.00)" style="font-size:100px;font-weight:normal" fill="#000">Control</text>
<path d="M1135.8 1284.2H1173.2" stroke="#6a6a6a" stroke-width="2.1"/>
<circle cx="1154.5" cy="1284.2" r="5.03" fill="#000000"/>
<text transform="matrix(0.28721 0 0 0.29517 1193.06 1295.00)" style="font-size:100px;font-weight:normal" fill="#000">Cocktail</text>
<path d="M1362.8 1284.5H1400" stroke="#e0413c" stroke-width="2.1"/>
<path d="M1381.4 1279.51L1386.15 1289.01L1376.65 1289.01Z" fill="#e0413c"/>
<text transform="matrix(0.28047 0 0 0.31449 1419.76 1295.00)" style="font-size:100px;font-weight:normal" fill="#000">Rap</text>
<path d="M913.5 1350.4H950.9" stroke="#4f97e0" stroke-width="2.1"/>
<path d="M932.2 1345.41L936.95 1354.91L927.45 1354.91Z" fill="#4f97e0"/>
<text transform="matrix(0.28358 0 0 0.28552 971.56 1360.50)" style="font-size:100px;font-weight:normal" fill="#000">Acb</text>
<path d="M1135.8 1350.4H1173.2" stroke="#1fb21f" stroke-width="2.1"/>
<path d="M1154.5 1355.39L1159.25 1345.89L1149.75 1345.89Z" fill="#1fb21f"/>
<text transform="matrix(0.28294 0 0 0.28552 1193.04 1360.50)" style="font-size:100px;font-weight:normal" fill="#000">Pba</text>
<text transform="matrix(0.56637 0 0 0.61304 9.02 1499.30)" style="font-size:100px;font-weight:bold" fill="#000">E</text>
<text transform="matrix(0.33661 0 0 0.33379 171.81 1481.00)" style="font-size:100px;font-weight:bold" fill="#000">Female food consumption</text>
<polyline points="120.2,1611.43 294.53,1657.01 468.87,1665.19 643.2,1589.22" fill="none" stroke="#000000" stroke-width="1.5"/>
<polyline points="120.2,1627.79 294.53,1607.34 468.87,1597.99 643.2,1592.15" fill="none" stroke="#000000" stroke-width="1.5"/>
<polyline points="120.2,1628.96 294.53,1668.11 468.87,1665.77 643.2,1640.64" fill="none" stroke="#e0413c" stroke-width="1.5"/>
<polyline points="120.2,1656.42 294.53,1607.34 468.87,1633.63 643.2,1590.98" fill="none" stroke="#4f97e0" stroke-width="1.5"/>
<polyline points="120.2,1655.25 294.53,1674.54 468.87,1694.4 643.2,1606.75" fill="none" stroke="#1fb21f" stroke-width="1.5"/>
<path d="M120.2 1588.06V1634.8 M115.2 1588.06H125.2 M115.2 1634.8H125.2" stroke="#000000" stroke-width="1.6" fill="none"/>
<path d="M294.53 1585.72V1728.3 M289.53 1585.72H299.53 M289.53 1728.3H299.53" stroke="#000000" stroke-width="1.6" fill="none"/>
<path d="M468.87 1614.93V1715.44 M463.87 1614.93H473.87 M463.87 1715.44H473.87" stroke="#000000" stroke-width="1.6" fill="none"/>
<path d="M643.2 1577.54V1600.91 M638.2 1577.54H648.2 M638.2 1600.91H648.2" stroke="#000000" stroke-width="1.6" fill="none"/>
<path d="M120.2 1586.89V1668.69 M115.2 1586.89H125.2 M115.2 1668.69H125.2" stroke="#000000" stroke-width="1.6" fill="none"/>
<path d="M294.53 1583.96V1630.71 M289.53 1583.96H299.53 M289.53 1630.71H299.53" stroke="#000000" stroke-width="1.6" fill="none"/>
<path d="M468.87 1545.4V1650.58 M463.87 1545.4H473.87 M463.87 1650.58H473.87" stroke="#000000" stroke-width="1.6" fill="none"/>
<path d="M643.2 1527.87V1656.42 M638.2 1527.87H648.2 M638.2 1656.42H648.2" stroke="#000000" stroke-width="1.6" fill="none"/>
<path d="M120.2 1593.9V1664.02 M115.2 1593.9H125.2 M115.2 1664.02H125.2" stroke="#e0413c" stroke-width="1.6" fill="none"/>
<path d="M294.53 1650.58V1685.64 M289.53 1650.58H299.53 M289.53 1685.64H299.53" stroke="#e0413c" stroke-width="1.6" fill="none"/>
<path d="M468.87 1642.4V1689.14 M463.87 1642.4H473.87 M463.87 1689.14H473.87" stroke="#e0413c" stroke-width="1.6" fill="none"/>
<path d="M643.2 1620.19V1661.1 M638.2 1620.19H648.2 M638.2 1661.1H648.2" stroke="#e0413c" stroke-width="1.6" fill="none"/>
<path d="M120.2 1638.89V1673.95 M115.2 1638.89H125.2 M115.2 1673.95H125.2" stroke="#4f97e0" stroke-width="1.6" fill="none"/>
<path d="M294.53 1554.75V1659.93 M289.53 1554.75H299.53 M289.53 1659.93H299.53" stroke="#4f97e0" stroke-width="1.6" fill="none"/>
<path d="M468.87 1586.89V1680.38 M463.87 1586.89H473.87 M463.87 1680.38H473.87" stroke="#4f97e0" stroke-width="1.6" fill="none"/>
<path d="M643.2 1538.39V1643.57 M638.2 1538.39H648.2 M638.2 1643.57H648.2" stroke="#4f97e0" stroke-width="1.6" fill="none"/>
<path d="M120.2 1596.82V1713.69 M115.2 1596.82H125.2 M115.2 1713.69H125.2" stroke="#1fb21f" stroke-width="1.6" fill="none"/>
<path d="M294.53 1657.01V1692.07 M289.53 1657.01H299.53 M289.53 1692.07H299.53" stroke="#1fb21f" stroke-width="1.6" fill="none"/>
<path d="M468.87 1644.74V1744.07 M463.87 1644.74H473.87 M463.87 1744.07H473.87" stroke="#1fb21f" stroke-width="1.6" fill="none"/>
<path d="M643.2 1577.54V1635.97 M638.2 1577.54H648.2 M638.2 1635.97H648.2" stroke="#1fb21f" stroke-width="1.6" fill="none"/>
<path d="M120.2 1660.5L125.2 1650.5L115.2 1650.5Z" fill="#1fb21f"/>
<path d="M294.53 1679.79L299.53 1669.79L289.53 1669.79Z" fill="#1fb21f"/>
<path d="M468.87 1699.65L473.87 1689.65L463.87 1689.65Z" fill="#1fb21f"/>
<path d="M643.2 1612L648.2 1602L638.2 1602Z" fill="#1fb21f"/>
<path d="M120.2 1651.17L125.2 1661.17L115.2 1661.17Z" fill="#4f97e0"/>
<path d="M294.53 1602.09L299.53 1612.09L289.53 1612.09Z" fill="#4f97e0"/>
<path d="M468.87 1628.38L473.87 1638.38L463.87 1638.38Z" fill="#4f97e0"/>
<path d="M643.2 1585.73L648.2 1595.73L638.2 1595.73Z" fill="#4f97e0"/>
<path d="M120.2 1623.71L125.2 1633.71L115.2 1633.71Z" fill="#e0413c"/>
<path d="M294.53 1662.86L299.53 1672.86L289.53 1672.86Z" fill="#e0413c"/>
<path d="M468.87 1660.52L473.87 1670.52L463.87 1670.52Z" fill="#e0413c"/>
<path d="M643.2 1635.39L648.2 1645.39L638.2 1645.39Z" fill="#e0413c"/>
<circle cx="120.2" cy="1627.79" r="5.3" fill="#000000"/>
<circle cx="294.53" cy="1607.34" r="5.3" fill="#000000"/>
<circle cx="468.87" cy="1597.99" r="5.3" fill="#000000"/>
<circle cx="643.2" cy="1592.15" r="5.3" fill="#000000"/>
<rect x="115" y="1606.23" width="10.4" height="10.4" fill="#000000"/>
<rect x="289.33" y="1651.81" width="10.4" height="10.4" fill="#000000"/>
<rect x="463.67" y="1659.99" width="10.4" height="10.4" fill="#000000"/>
<rect x="638" y="1584.02" width="10.4" height="10.4" fill="#000000"/>
<text transform="translate(99.7 1535.5) scale(1 1.04)" class="tk" text-anchor="end">6</text>
<text transform="translate(99.7 1652.37) scale(1 1.04)" class="tk" text-anchor="end">4</text>
<text transform="translate(99.7 1769.23) scale(1 1.04)" class="tk" text-anchor="end">2</text>
<text transform="translate(99.7 1886.1) scale(1 1.04)" class="tk" text-anchor="end">0</text>
<text transform="translate(120.2 1920.8) scale(1 1.04)" class="tk" text-anchor="middle">0</text>
<text transform="translate(294.53 1920.8) scale(1 1.04)" class="tk" text-anchor="middle">1</text>
<text transform="translate(468.87 1920.8) scale(1 1.04)" class="tk" text-anchor="middle">2</text>
<text transform="translate(643.2 1920.8) scale(1 1.04)" class="tk" text-anchor="middle">3</text>
<path d="M120.2 1526.7V1877.3 H643.2" stroke="#000" stroke-width="3.2" fill="none" stroke-linecap="square"/>
<path d="M105.2 1526.7H120.2 M105.2 1643.57H120.2 M105.2 1760.43H120.2 M105.2 1877.3H120.2 M120.2 1877.3V1892.3 M294.53 1877.3V1892.3 M468.87 1877.3V1892.3 M643.2 1877.3V1892.3" stroke="#000" stroke-width="3.2" fill="none"/>
<text transform="matrix(0.28974 0 0 0.30345 336.92 1962.80)" style="font-size:100px;font-weight:bold" fill="#000">Month</text>
<text transform="translate(68.40 1746.30) rotate(-90) matrix(0.28947 0 0 0.30286 -1.16 0)" style="font-size:100px;font-weight:bold">Grams</text>
<path d="M86.7 2000.8H122.7" stroke="#6a6a6a" stroke-width="2.1"/>
<rect x="99.76" y="1995.86" width="9.88" height="9.88" fill="#000000"/>
<text transform="matrix(0.28857 0 0 0.28966 143.16 2011.50)" style="font-size:100px;font-weight:normal" fill="#000">Control</text>
<path d="M319.6 2000.8H356.2" stroke="#6a6a6a" stroke-width="2.1"/>
<circle cx="337.9" cy="2000.8" r="5.03" fill="#000000"/>
<text transform="matrix(0.28721 0 0 0.28966 376.86 2011.50)" style="font-size:100px;font-weight:normal" fill="#000">Cocktail</text>
<path d="M536 2001H573" stroke="#e0413c" stroke-width="2.1"/>
<path d="M554.5 1996.01L559.25 2005.51L549.75 2005.51Z" fill="#e0413c"/>
<text transform="matrix(0.29446 0 0 0.30725 592.24 2011.50)" style="font-size:100px;font-weight:normal" fill="#000">Rap</text>
<path d="M86.7 2066.2H122.7" stroke="#4f97e0" stroke-width="2.1"/>
<path d="M104.7 2061.21L109.45 2070.71L99.95 2070.71Z" fill="#4f97e0"/>
<text transform="matrix(0.28000 0 0 0.28552 144.46 2077.40)" style="font-size:100px;font-weight:normal" fill="#000">Acb</text>
<path d="M319.6 2066.2H356.2" stroke="#1fb21f" stroke-width="2.1"/>
<path d="M337.9 2071.19L342.65 2061.69L333.15 2061.69Z" fill="#1fb21f"/>
<text transform="matrix(0.28235 0 0 0.28552 376.64 2077.40)" style="font-size:100px;font-weight:normal" fill="#000">Pba</text>
<text transform="matrix(0.56275 0 0 0.61304 811.34 1499.30)" style="font-size:100px;font-weight:bold" fill="#000">F</text>
<text transform="matrix(0.33970 0 0 0.33379 994.99 1481.00)" style="font-size:100px;font-weight:bold" fill="#000">Male food consumption</text>
<polyline points="924.3,1620.01 1098.53,1653.98 1272.77,1634.65 1447,1629.96" fill="none" stroke="#000000" stroke-width="1.5"/>
<polyline points="924.3,1682.67 1098.53,1644.6 1272.77,1633.48 1447,1663.93" fill="none" stroke="#000000" stroke-width="1.5"/>
<polyline points="924.3,1608.29 1098.53,1656.32 1272.77,1665.69 1447,1646.36" fill="none" stroke="#e0413c" stroke-width="1.5"/>
<polyline points="924.3,1656.32 1098.53,1622.93 1272.77,1631.72 1447,1603.61" fill="none" stroke="#4f97e0" stroke-width="1.5"/>
<polyline points="924.3,1658.08 1098.53,1658.08 1272.77,1655.15 1447,1646.36" fill="none" stroke="#1fb21f" stroke-width="1.5"/>
<path d="M924.3 1590.72V1649.29 M919.3 1590.72H929.3 M919.3 1649.29H929.3" stroke="#000000" stroke-width="1.6" fill="none"/>
<path d="M1098.53 1601.27V1706.69 M1093.53 1601.27H1103.53 M1093.53 1706.69H1103.53" stroke="#000000" stroke-width="1.6" fill="none"/>
<path d="M1272.77 1567.3V1702 M1267.77 1567.3H1277.77 M1267.77 1702H1277.77" stroke="#000000" stroke-width="1.6" fill="none"/>
<path d="M1447 1565.54V1694.39 M1442 1565.54H1452 M1442 1694.39H1452" stroke="#000000" stroke-width="1.6" fill="none"/>
<path d="M924.3 1670.96V1694.39 M919.3 1670.96H929.3 M919.3 1694.39H929.3" stroke="#000000" stroke-width="1.6" fill="none"/>
<path d="M1098.53 1603.61V1685.6 M1093.53 1603.61H1103.53 M1093.53 1685.6H1103.53" stroke="#000000" stroke-width="1.6" fill="none"/>
<path d="M1272.77 1566.13V1700.83 M1267.77 1566.13H1277.77 M1267.77 1700.83H1277.77" stroke="#000000" stroke-width="1.6" fill="none"/>
<path d="M1447 1634.65V1693.21 M1442 1634.65H1452 M1442 1693.21H1452" stroke="#000000" stroke-width="1.6" fill="none"/>
<path d="M924.3 1567.3V1649.29 M919.3 1567.3H929.3 M919.3 1649.29H929.3" stroke="#e0413c" stroke-width="1.6" fill="none"/>
<path d="M1098.53 1632.89V1679.74 M1093.53 1632.89H1103.53 M1093.53 1679.74H1103.53" stroke="#e0413c" stroke-width="1.6" fill="none"/>
<path d="M1272.77 1612.98V1718.4 M1267.77 1612.98H1277.77 M1267.77 1718.4H1277.77" stroke="#e0413c" stroke-width="1.6" fill="none"/>
<path d="M1447 1596.58V1696.14 M1442 1596.58H1452 M1442 1696.14H1452" stroke="#e0413c" stroke-width="1.6" fill="none"/>
<path d="M924.3 1644.6V1668.03 M919.3 1644.6H929.3 M919.3 1668.03H929.3" stroke="#4f97e0" stroke-width="1.6" fill="none"/>
<path d="M1098.53 1587.8V1658.08 M1093.53 1587.8H1103.53 M1093.53 1658.08H1103.53" stroke="#4f97e0" stroke-width="1.6" fill="none"/>
<path d="M1272.77 1567.3V1696.14 M1267.77 1567.3H1277.77 M1267.77 1696.14H1277.77" stroke="#4f97e0" stroke-width="1.6" fill="none"/>
<path d="M1447 1545.04V1662.17 M1442 1545.04H1452 M1442 1662.17H1452" stroke="#4f97e0" stroke-width="1.6" fill="none"/>
<path d="M924.3 1637.58V1678.57 M919.3 1637.58H929.3 M919.3 1678.57H929.3" stroke="#1fb21f" stroke-width="1.6" fill="none"/>
<path d="M1098.53 1617.08V1699.07 M1093.53 1617.08H1103.53 M1093.53 1699.07H1103.53" stroke="#1fb21f" stroke-width="1.6" fill="none"/>
<path d="M1272.77 1596.58V1713.71 M1267.77 1596.58H1277.77 M1267.77 1713.71H1277.77" stroke="#1fb21f" stroke-width="1.6" fill="none"/>
<path d="M1447 1590.72V1702 M1442 1590.72H1452 M1442 1702H1452" stroke="#1fb21f" stroke-width="1.6" fill="none"/>
<path d="M924.3 1663.33L929.3 1653.33L919.3 1653.33Z" fill="#1fb21f"/>
<path d="M1098.53 1663.33L1103.53 1653.33L1093.53 1653.33Z" fill="#1fb21f"/>
<path d="M1272.77 1660.4L1277.77 1650.4L1267.77 1650.4Z" fill="#1fb21f"/>
<path d="M1447 1651.61L1452 1641.61L1442 1641.61Z" fill="#1fb21f"/>
<path d="M924.3 1651.07L929.3 1661.07L919.3 1661.07Z" fill="#4f97e0"/>
<path d="M1098.53 1617.68L1103.53 1627.68L1093.53 1627.68Z" fill="#4f97e0"/>
<path d="M1272.77 1626.47L1277.77 1636.47L1267.77 1636.47Z" fill="#4f97e0"/>
<path d="M1447 1598.36L1452 1608.36L1442 1608.36Z" fill="#4f97e0"/>
<path d="M924.3 1603.04L929.3 1613.04L919.3 1613.04Z" fill="#e0413c"/>
<path d="M1098.53 1651.07L1103.53 1661.07L1093.53 1661.07Z" fill="#e0413c"/>
<path d="M1272.77 1660.44L1277.77 1670.44L1267.77 1670.44Z" fill="#e0413c"/>
<path d="M1447 1641.11L1452 1651.11L1442 1651.11Z" fill="#e0413c"/>
<circle cx="924.3" cy="1682.67" r="5.3" fill="#000000"/>
<circle cx="1098.53" cy="1644.6" r="5.3" fill="#000000"/>
<circle cx="1272.77" cy="1633.48" r="5.3" fill="#000000"/>
<circle cx="1447" cy="1663.93" r="5.3" fill="#000000"/>
<rect x="919.1" y="1614.81" width="10.4" height="10.4" fill="#000000"/>
<rect x="1093.33" y="1648.78" width="10.4" height="10.4" fill="#000000"/>
<rect x="1267.57" y="1629.45" width="10.4" height="10.4" fill="#000000"/>
<rect x="1441.8" y="1624.76" width="10.4" height="10.4" fill="#000000"/>
<text transform="translate(903.8 1535.1) scale(1 1.04)" class="tk" text-anchor="end">6</text>
<text transform="translate(903.8 1652.23) scale(1 1.04)" class="tk" text-anchor="end">4</text>
<text transform="translate(903.8 1769.37) scale(1 1.04)" class="tk" text-anchor="end">2</text>
<text transform="translate(903.8 1886.5) scale(1 1.04)" class="tk" text-anchor="end">0</text>
<text transform="translate(924.3 1921.2) scale(1 1.04)" class="tk" text-anchor="middle">0</text>
<text transform="translate(1098.53 1921.2) scale(1 1.04)" class="tk" text-anchor="middle">1</text>
<text transform="translate(1272.77 1921.2) scale(1 1.04)" class="tk" text-anchor="middle">2</text>
<text transform="translate(1447 1921.2) scale(1 1.04)" class="tk" text-anchor="middle">3</text>
<path d="M924.3 1526.3V1877.7 H1447" stroke="#000" stroke-width="3.2" fill="none" stroke-linecap="square"/>
<path d="M909.3 1526.3H924.3 M909.3 1643.43H924.3 M909.3 1760.57H924.3 M909.3 1877.7H924.3 M924.3 1877.7V1892.7 M1098.53 1877.7V1892.7 M1272.77 1877.7V1892.7 M1447 1877.7V1892.7" stroke="#000" stroke-width="3.2" fill="none"/>
<text transform="matrix(0.29252 0 0 0.30345 1141.10 1962.80)" style="font-size:100px;font-weight:bold" fill="#000">Month</text>
<text transform="translate(873.20 1746.30) rotate(-90) matrix(0.28947 0 0 0.30429 -1.16 0)" style="font-size:100px;font-weight:bold">Grams</text>
<path d="M901.7 2000.8H939" stroke="#6a6a6a" stroke-width="2.1"/>
<rect x="915.41" y="1995.86" width="9.88" height="9.88" fill="#000000"/>
<text transform="matrix(0.28792 0 0 0.29241 958.96 2012.00)" style="font-size:100px;font-weight:normal" fill="#000">Control</text>
<path d="M1108.5 2000.8H1145.8" stroke="#6a6a6a" stroke-width="2.1"/>
<circle cx="1127.15" cy="2000.8" r="5.03" fill="#000000"/>
<text transform="matrix(0.28692 0 0 0.29241 1167.07 2012.00)" style="font-size:100px;font-weight:normal" fill="#000">Cocktail</text>
<path d="M1332.5 2001H1370" stroke="#e0413c" stroke-width="2.1"/>
<path d="M1351.25 1996.01L1356 2005.51L1346.5 2005.51Z" fill="#e0413c"/>
<text transform="matrix(0.29213 0 0 0.30725 1389.66 2011.50)" style="font-size:100px;font-weight:normal" fill="#000">Rap</text>
<path d="M901.7 2066.2H939" stroke="#4f97e0" stroke-width="2.1"/>
<path d="M920.35 2061.21L925.1 2070.71L915.6 2070.71Z" fill="#4f97e0"/>
<text transform="matrix(0.28179 0 0 0.28552 960.26 2077.40)" style="font-size:100px;font-weight:normal" fill="#000">Acb</text>
<path d="M1108.5 2066.2H1145.8" stroke="#1fb21f" stroke-width="2.1"/>
<path d="M1127.15 2071.19L1131.9 2061.69L1122.4 2061.69Z" fill="#1fb21f"/>
<text transform="matrix(0.28235 0 0 0.28552 1166.24 2077.40)" style="font-size:100px;font-weight:normal" fill="#000">Pba</text>
</svg>
</body></html>
